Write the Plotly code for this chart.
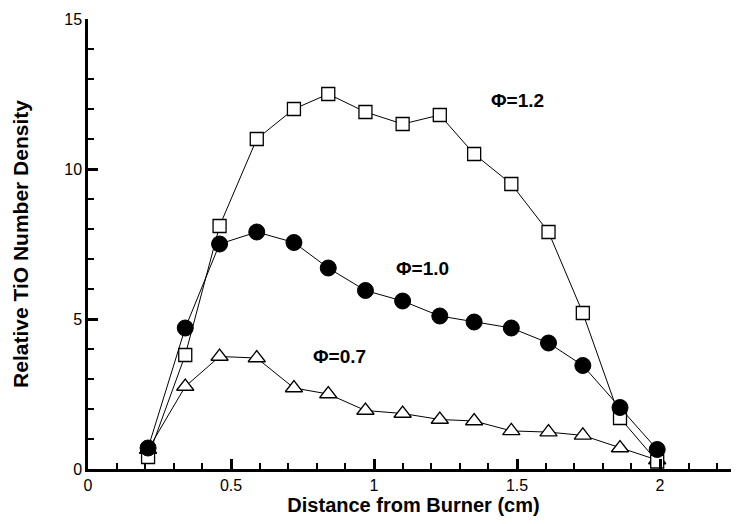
import plotly.graph_objects as go

x = [0.21, 0.34, 0.46, 0.59, 0.72, 0.84, 0.97, 1.10, 1.23, 1.35, 1.48, 1.61, 1.73, 1.86, 1.99]
phi12 = [0.4, 3.8, 8.1, 11.0, 12.0, 12.5, 11.9, 11.5, 11.8, 10.5, 9.5, 7.9, 5.2, 1.7, 0.25]
phi10 = [0.7, 4.7, 7.5, 7.9, 7.55, 6.7, 5.95, 5.6, 5.1, 4.9, 4.7, 4.2, 3.45, 2.05, 0.65]
phi07 = [0.65, 2.75, 3.75, 3.7, 2.7, 2.5, 1.95, 1.85, 1.65, 1.6, 1.27, 1.23, 1.12, 0.7, 0.3]

labels = ["Φ=1.2", "Φ=1.0", "Φ=0.7"]
label_x = [1.50, 1.17, 0.88]
label_y = [12.3, 6.7, 3.75]

xticks = [0, 0.5, 1, 1.5, 2]
xticklabels = ["0", "0.5", "1", "1.5", "2"]
yticks = [0, 5, 10, 15]
yticklabels = ["0", "5", "10", "15"]

fig = go.Figure()
fig.add_trace(go.Scatter(x=x, y=phi07, mode="lines+markers", name="Φ=0.7",
                         line=dict(color="black", width=1),
                         marker=dict(symbol="triangle-up", size=15, color="white",
                                     line=dict(color="black", width=1.3))))
fig.add_trace(go.Scatter(x=x, y=phi12, mode="lines+markers", name="Φ=1.2",
                         line=dict(color="black", width=1),
                         marker=dict(symbol="square", size=13, color="white",
                                     line=dict(color="black", width=1.3))))
fig.add_trace(go.Scatter(x=x, y=phi10, mode="lines+markers", name="Φ=1.0",
                         line=dict(color="black", width=1),
                         marker=dict(symbol="circle", size=16, color="black",
                                     line=dict(color="black", width=1))))

for t, lx, ly in zip(labels, label_x, label_y):
    fig.add_annotation(x=lx, y=ly, text="<b>%s</b>" % t, showarrow=False,
                       font=dict(family="Liberation Sans, Arial", size=19, color="black"))

fig.update_layout(
    width=731, height=516,
    margin=dict(l=80, r=0, t=11, b=55),
    paper_bgcolor="white", plot_bgcolor="white",
    showlegend=False,
    font=dict(family="Liberation Sans, Arial", size=16, color="black"),
    xaxis=dict(range=[0, 2.276], tickvals=xticks, ticktext=xticklabels,
               automargin=False,
               showgrid=False, zeroline=False, showline=True, linewidth=2.5,
               linecolor="black", ticks="inside", ticklen=10, tickwidth=2.5,
               tickcolor="black",
               minor=dict(dtick=0.1, tick0=0, ticks="inside", ticklen=6,
                          tickwidth=1.5, tickcolor="black"),
               title=dict(text="<b>Distance from Burner (cm)</b>",
                          font=dict(size=20), standoff=6)),
    yaxis=dict(range=[0, 15], tickvals=yticks, ticktext=yticklabels,
               automargin=False,
               showgrid=False, zeroline=False, showline=True, linewidth=2.5,
               linecolor="black", ticks="inside", ticklen=10, tickwidth=2.5,
               tickcolor="black",
               minor=dict(dtick=1, tick0=0, ticks="inside", ticklen=6,
                          tickwidth=1.5, tickcolor="black"),
               title=dict(text="<b>Relative TiO Number Density</b>",
                          font=dict(size=21), standoff=30)),
)

fig.write_html("out.html")
